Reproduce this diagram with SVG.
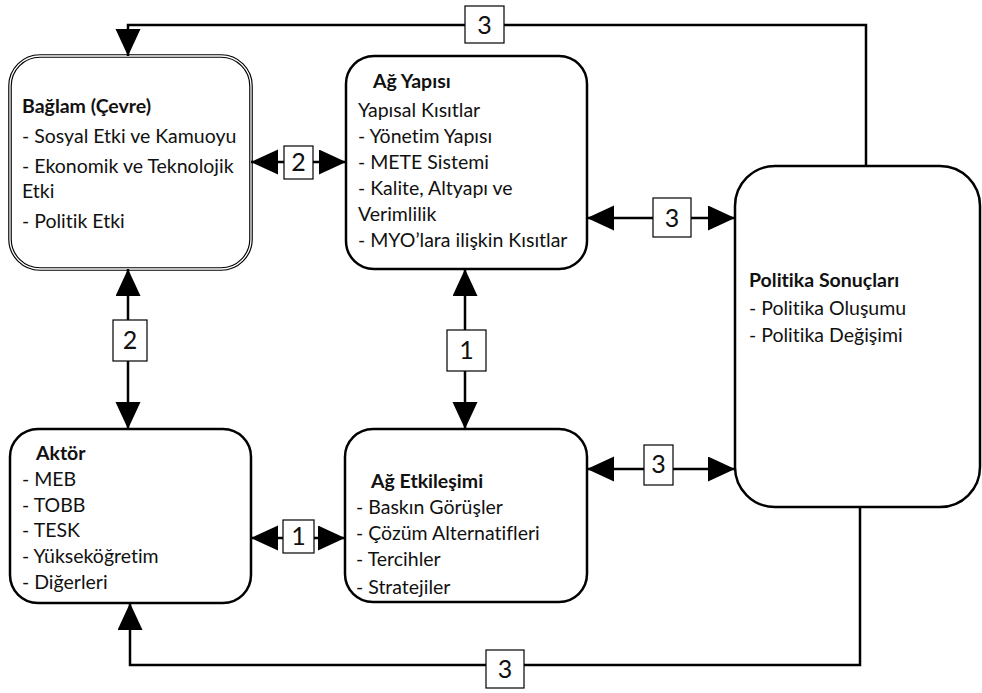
<svg xmlns="http://www.w3.org/2000/svg" width="982" height="693" viewBox="0 0 982 693">
<style>
  .box{fill:#fff;stroke:#000;stroke-width:2.5}
  .t{font-family:Lato,"Liberation Sans",sans-serif;font-size:19.5px;fill:#111;font-variant-ligatures:none}
  .b{font-weight:bold}
  .ln{fill:none;stroke:#000;stroke-width:2.5}
  .lbl{fill:#fff;stroke:#000;stroke-width:1.2}
  .num{font-family:Lato,"Liberation Sans",sans-serif;font-size:25px;fill:#111;text-anchor:middle}
</style>
<defs>
  <marker id="arr" markerUnits="userSpaceOnUse" markerWidth="28" markerHeight="26" refX="27" refY="12.5" orient="auto-start-reverse" viewBox="0 0 28 26">
    <path d="M0,0 L27,12.5 L0,25 Z" fill="#000"/>
  </marker>
  <clipPath id="clipEtk"><rect x="345" y="429" width="242" height="168"/></clipPath>
</defs>

<g id="baglam">
  <rect x="10" y="56" width="241" height="213" rx="30" fill="#fff" stroke="#000" stroke-width="3.6"/>
  <rect x="10" y="56" width="241" height="213" rx="30" fill="none" stroke="#fff" stroke-width="1.3"/>
  <text class="t b" x="22" y="113">Bağlam (Çevre)</text>
  <text class="t" x="22" y="143">- Sosyal Etki ve Kamuoyu</text>
  <text class="t" x="22" y="173">- Ekonomik ve Teknolojik</text>
  <text class="t" x="22" y="198">Etki</text>
  <text class="t" x="22" y="228">- Politik Etki</text>
</g>

<g id="ag-yapisi">
  <rect class="box" x="346" y="56" width="241" height="213" rx="28"/>
  <text class="t b" x="373" y="88">Ağ Yapısı</text>
  <text class="t" x="358" y="117">Yapısal Kısıtlar</text>
  <text class="t" x="358" y="143">- Yönetim Yapısı</text>
  <text class="t" x="358" y="169">- METE Sistemi</text>
  <text class="t" x="358" y="195">- Kalite, Altyapı ve</text>
  <text class="t" x="358" y="221">Verimlilik</text>
  <text class="t" x="358" y="247">- MYO’lara ilişkin Kısıtlar</text>
</g>

<g id="politika">
  <rect class="box" x="735" y="166" width="245" height="341" rx="40"/>
  <text class="t b" x="749" y="287">Politika Sonuçları</text>
  <text class="t" x="749" y="315">- Politika Oluşumu</text>
  <text class="t" x="749" y="342">- Politika Değişimi</text>
</g>

<g id="aktor">
  <rect class="box" x="10" y="429" width="241" height="174" rx="28"/>
  <text class="t b" x="36" y="460">Aktör</text>
  <text class="t" x="22" y="486">- MEB</text>
  <text class="t" x="22" y="512">- TOBB</text>
  <text class="t" x="22" y="537">- TESK</text>
  <text class="t" x="22" y="563">- Yükseköğretim</text>
  <text class="t" x="22" y="589">- Diğerleri</text>
</g>

<g id="ag-etkilesimi">
  <rect class="box" x="345" y="429" width="242" height="173" rx="28"/>
  <g clip-path="url(#clipEtk)">
    <text class="t b" x="371" y="488">Ağ Etkileşimi</text>
    <text class="t" x="356" y="514">- Baskın Görüşler</text>
    <text class="t" x="356" y="540">- Çözüm Alternatifleri</text>
    <text class="t" x="356" y="566">- Tercihler</text>
    <text class="t" x="356" y="594">- Stratejiler</text>
  </g>
</g>

<g id="connectors">
  <path class="ln" d="M866,166 V25 H128 V56" marker-end="url(#arr)"/>
  <path class="ln" d="M251,162 H346" marker-start="url(#arr)" marker-end="url(#arr)"/>
  <path class="ln" d="M587,218 H735" marker-start="url(#arr)" marker-end="url(#arr)"/>
  <path class="ln" d="M128,269 V429" marker-start="url(#arr)" marker-end="url(#arr)"/>
  <path class="ln" d="M465,269 V429" marker-start="url(#arr)" marker-end="url(#arr)"/>
  <path class="ln" d="M251,538 H345" marker-start="url(#arr)" marker-end="url(#arr)"/>
  <path class="ln" d="M587,469 H735" marker-start="url(#arr)" marker-end="url(#arr)"/>
  <path class="ln" d="M860,507 V665 H130 V603" marker-end="url(#arr)"/>

  <rect class="lbl" x="465" y="6" width="39" height="37"/>
  <text class="num" x="484.5" y="34">3</text>
  <rect class="lbl" x="284" y="146" width="29" height="33"/>
  <text class="num" x="298.5" y="171">2</text>
  <rect class="lbl" x="653" y="198" width="38" height="39"/>
  <text class="num" x="672" y="227">3</text>
  <rect class="lbl" x="113" y="320" width="34" height="41"/>
  <text class="num" x="130" y="349">2</text>
  <rect class="lbl" x="447" y="330" width="39" height="41"/>
  <text class="num" x="466.5" y="359">1</text>
  <rect class="lbl" x="283" y="520" width="31" height="33"/>
  <text class="num" x="298.5" y="545">1</text>
  <rect class="lbl" x="644" y="445" width="29" height="40"/>
  <text class="num" x="658.5" y="473">3</text>
  <rect class="lbl" x="486" y="650" width="38" height="38"/>
  <text class="num" x="505" y="678">3</text>
</g>
</svg>
